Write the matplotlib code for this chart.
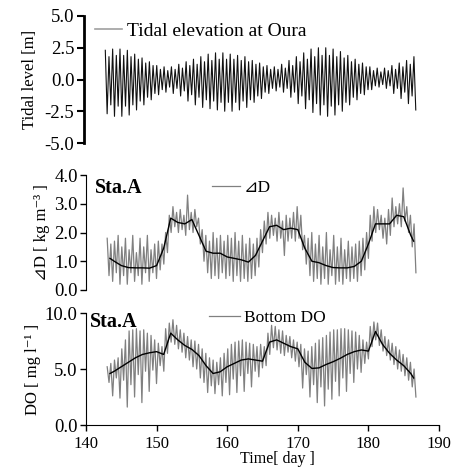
import numpy as np
import matplotlib
matplotlib.use('Agg')
import matplotlib.pyplot as plt
from matplotlib.lines import Line2D

FAM = ['Liberation Serif', 'DejaVu Sans']
plt.rcParams['font.family'] = FAM
plt.rcParams['font.size'] = 11

# ---------------- data ----------------
# time grid of the semidiurnal high / low waters (days)
CYCLE = 0.5175
t_high = 143.0 + CYCLE * np.arange(85)
t_low = t_high + CYCLE / 2

tide_high = [2.3, 1.8, 2.4, 1.9, 2.4, 1.9, 2.3, 1.8, 2.0, 1.6, 1.7, 1.3, 1.4, 1.1, 1.1, 0.8,
             1.0, 0.7, 1.0, 0.8, 1.2, 0.9, 1.4, 1.1, 1.6, 1.2, 1.8, 1.4, 2.0, 1.5, 2.1, 1.6,
             2.1, 1.6, 2.0, 1.6, 1.9, 1.5, 1.8, 1.4, 1.5, 1.2, 1.3, 1.0, 1.1, 0.8, 1.0, 0.8,
             1.2, 0.9, 1.5, 1.1, 1.8, 1.4, 2.1, 1.6, 2.4, 1.8, 2.5, 1.9, 2.5, 1.9, 2.4, 1.8,
             2.2, 1.7, 1.9, 1.4, 1.6, 1.2, 1.3, 1.0, 1.0, 0.7, 0.9, 0.6, 0.9, 0.7, 1.1, 0.8,
             1.3, 1.0, 1.5, 1.2, 1.8]
tide_low = [-2.7, -2.0, -2.9, -2.1, -2.9, -2.1, -2.8, -2.0, -2.4, -1.7, -2.0, -1.4, -1.6, -1.1,
            -1.2, -0.8, -1.0, -0.6, -1.1, -0.7, -1.3, -0.9, -1.7, -1.2, -2.0, -1.4, -2.2, -1.6,
            -2.3, -1.7, -2.4, -1.8, -2.5, -1.8, -2.5, -1.8, -2.4, -1.7, -2.2, -1.6, -1.8, -1.3,
            -1.5, -1.0, -1.1, -0.7, -0.9, -0.6, -1.0, -0.7, -1.4, -1.0, -1.9, -1.3, -2.3, -1.6,
            -2.6, -1.9, -2.8, -2.0, -2.9, -2.1, -2.8, -2.0, -2.5, -1.8, -2.0, -1.4, -1.6, -1.1,
            -1.2, -0.8, -0.8, -0.5, -0.6, -0.4, -0.7, -0.5, -1.1, -0.7, -1.5, -1.0, -1.9, -1.3,
            -2.4]

dD_high = [1.8, 1.6, 1.7, 1.9, 1.5, 1.8, 1.4, 1.9, 1.3, 1.8, 1.5, 1.9, 1.4, 1.6, 1.7, 1.6,
           2.0, 2.6, 2.9, 2.7, 2.8, 2.6, 3.3, 2.7, 2.8, 2.5, 2.1, 1.9, 1.7, 2.0, 1.8, 1.9,
           1.7, 1.9, 1.8, 2.0, 1.7, 1.9, 1.6, 1.8, 1.6, 1.8, 2.1, 2.4, 2.7, 2.6, 2.5, 2.7,
           2.4, 2.6, 2.5, 2.7, 2.9, 2.6, 1.9, 1.8, 2.0, 1.6, 1.9, 1.5, 2.0, 1.4, 1.9, 1.5,
           1.8, 1.4, 1.7, 1.5, 1.6, 1.7, 1.8, 2.0, 2.6, 2.9, 2.8, 2.6, 2.5, 2.8, 3.2, 2.9,
           3.0, 3.55, 2.9, 2.6, 2.3]
dD_low = [0.5, 0.3, 0.6, 0.2, 0.5, 0.2, 0.6, 0.3, 0.5, 0.2, 0.6, 0.3, 0.6, 0.4, 0.7, 0.9,
          1.3, 2.0, 2.2, 2.0, 2.1, 1.9, 2.1, 2.0, 2.2, 1.6, 1.0, 0.6, 0.4, 0.5, 0.4, 0.6,
          0.4, 0.5, 0.3, 0.5, 0.3, 0.4, 0.3, 0.4, 0.5, 0.8, 1.3, 1.6, 1.8, 1.9, 1.7, 1.8,
          1.2, 1.7, 1.8, 1.7, 1.8, 1.4, 0.9, 0.5, 0.3, 0.4, 0.2, 0.4, 0.2, 0.5, 0.2, 0.3,
          0.2, 0.4, 0.3, 0.4, 0.3, 0.5, 0.7, 1.1, 1.7, 2.0, 2.1, 1.8, 1.6, 1.9, 2.2, 2.3,
          2.2, 2.4, 2.0, 1.5, 0.6]

do_high = [5.2, 5.5, 5.8, 6.0, 6.8, 7.6, 8.4, 8.5, 8.6, 8.4, 8.5, 8.2, 8.0, 7.6, 7.3, 7.0,
           8.6, 9.1, 9.4, 8.9, 8.5, 8.2, 7.9, 7.6, 7.5, 7.2, 6.8, 6.4, 6.0, 5.8, 5.6, 6.0,
           6.4, 6.8, 7.2, 7.4, 7.5, 7.6, 7.4, 7.3, 7.2, 7.0, 7.2, 7.0, 8.2, 8.9, 8.8, 8.5,
           8.4, 8.0, 7.9, 7.6, 7.4, 7.2, 6.8, 6.6, 7.0, 7.3, 7.6, 7.8, 8.0, 8.3, 8.5, 8.5,
           8.6, 8.6, 8.5, 8.4, 8.3, 8.0, 7.6, 7.4, 8.8, 9.2, 9.1, 8.5, 7.9, 7.6, 7.3, 7.0,
           6.7, 6.3, 6.0, 5.6, 5.0]
do_low = [3.8, 2.6, 4.2, 2.4, 4.0, 1.6, 3.6, 2.5, 4.5, 2.0, 4.8, 3.0, 4.9, 3.7, 5.3, 4.8,
          6.4, 7.4, 7.2, 6.8, 6.5, 6.0, 5.8, 5.2, 5.0, 4.2, 3.8, 2.9, 3.5, 2.8, 3.6, 2.6,
          3.8, 2.7, 4.1, 2.9, 4.4, 3.0, 4.6, 3.4, 4.8, 4.3, 5.1, 5.3, 6.3, 6.9, 6.7, 6.4,
          6.2, 6.5, 6.0, 5.7, 5.2, 3.3, 4.5, 2.5, 3.6, 2.0, 3.4, 1.7, 3.2, 2.3, 3.9, 2.6,
          4.2, 3.0, 4.6, 3.8, 5.0, 4.7, 5.5, 5.9, 7.0, 7.6, 7.1, 6.6, 6.2, 5.8, 5.4, 5.0,
          4.8, 4.4, 4.0, 3.4, 2.5]

# daily-mean (smoothed) series
mean_day = [143.4, 144, 145, 146, 147, 148, 149, 150, 151, 152, 153, 154, 155, 156, 157,
            158, 159, 160, 161, 162, 163, 164, 165, 166, 167, 168, 169, 170, 171, 172, 173,
            174, 175, 176, 177, 178, 179, 180, 181, 182, 183, 184, 185, 186, 186.4]
dD_mean = [1.1, 1.0, 0.85, 0.78, 0.77, 0.77, 0.76, 0.85, 1.45, 2.5, 2.35, 2.3, 2.45, 1.9, 1.35,
           1.28, 1.28, 1.15, 1.1, 1.05, 0.97, 1.2, 1.7, 2.2, 2.25, 2.1, 2.15, 2.1, 1.45, 1.0, 0.95,
           0.85, 0.78, 0.77, 0.77, 0.82, 1.0, 1.6, 2.3, 2.3, 2.3, 2.6, 2.55, 1.9, 1.7]
do_mean = [4.6, 4.8, 5.2, 5.6, 6.0, 6.3, 6.45, 6.55, 6.3, 8.2, 7.6, 7.1, 6.75, 6.2, 5.3,
           4.6, 4.75, 5.2, 5.5, 5.8, 5.9, 5.8, 5.7, 7.4, 7.6, 7.3, 7.0, 6.8, 5.6, 5.05, 5.1,
           5.4, 5.65, 5.95, 6.3, 6.55, 6.7, 6.6, 8.35, 7.2, 6.4, 5.8, 5.3, 4.6, 4.2]

x_ticks = [140, 150, 160, 170, 180, 190]


def zigzag(hi, lo):
    t = np.column_stack([t_high, t_low]).ravel()
    v = np.column_stack([hi, lo]).ravel()
    return t, v


# ---------------- figure ----------------
W, H = 454, 467
fig = plt.figure(figsize=(W / 100, H / 100), dpi=100)


def px_axes(x0, y0, x1, y1):
    return fig.add_axes([x0 / W, 1 - y1 / H, (x1 - x0) / W, (y1 - y0) / H])


ax1 = px_axes(84, 16, 439, 143)
ax2 = px_axes(86, 175, 439, 290)
ax3 = px_axes(86, 313, 439, 425)

for ax in (ax1, ax2, ax3):
    ax.set_xlim(140, 190)
    for s in ('top', 'right'):
        ax.spines[s].set_visible(False)
    ax.tick_params(direction='out', length=4, width=1, pad=2)
    ax.tick_params(axis='y', labelsize=13.5)
    ax.tick_params(axis='x', labelsize=12)

for ax in (ax1, ax2):
    ax.spines['bottom'].set_visible(False)
    ax.tick_params(axis='x', bottom=False, labelbottom=False)

# --- tide
t, v = zigzag(tide_high, tide_low)
ax1.plot(t, v, color='#111111', lw=0.8)
ax1.set_ylim(-5, 5)
ax1.set_yticks([5.0, 2.5, 0.0, -2.5, -5.0])
ax1.set_yticklabels(['5.0', '2.5', '0.0', '-2.5', '-5.0'])
ax1.spines['left'].set_linewidth(2.0)
ax1.tick_params(axis='y', width=1.5, length=5)
ax1.set_ylabel('Tidal level [m]', fontsize=12, labelpad=5)
ax1.legend(handles=[Line2D([], [], color='#a0a0a0', lw=1.2)],
           labels=['Tidal elevation at Oura'], loc='center left',
           bbox_to_anchor=(95 / W, 1 - 31 / H), bbox_transform=fig.transFigure,
           frameon=False, borderpad=0, borderaxespad=0, handlelength=1.4,
           handletextpad=0.25, fontsize=14)

# --- delta D
t, v = zigzag(dD_high, dD_low)
ax2.plot(t, v, color='#808080', lw=0.9, label='⊿D')
ax2.plot(mean_day, dD_mean, color='black', lw=1.0)
ax2.set_ylim(0, 4)
ax2.set_yticks([0, 1, 2, 3, 4])
ax2.set_yticklabels(['0.0', '1.0', '2.0', '3.0', '4.0'])
ax2.set_ylabel('⊿D [ kg m⁻³ ]', fontsize=12, labelpad=3)
ax2.text(95 / W, 1 - 188 / H, 'Sta.A', transform=fig.transFigure, fontsize=14.5,
         fontweight='bold', va='center', ha='left')
ax2.legend(loc='center left', bbox_to_anchor=(212 / W, 1 - 188 / H),
           bbox_transform=fig.transFigure, frameon=False, borderpad=0, borderaxespad=0,
           handlelength=1.6, handletextpad=0.2, fontsize=12.5)

# --- DO
t, v = zigzag(do_high, do_low)
ax3.plot(t, v, color='#808080', lw=0.9, label='Bottom DO')
ax3.plot(mean_day, do_mean, color='black', lw=1.0)
ax3.set_ylim(0, 10)
ax3.set_yticks([0, 5, 10])
ax3.set_yticklabels(['0.0', '5.0', '10.0'])
ax3.set_ylabel('DO [ mg l⁻¹ ]', fontsize=12, labelpad=3)
ax3.set_xticks(x_ticks)
ax3.tick_params(axis='x', pad=4)
ax3.text(90 / W, 1 - 322 / H, 'Sta.A', transform=fig.transFigure, fontsize=14.5,
         fontweight='bold', va='center', ha='left')
ax3.legend(loc='center left', bbox_to_anchor=(209 / W, 1 - 318 / H),
           bbox_transform=fig.transFigure, frameon=False, borderpad=0, borderaxespad=0,
           handlelength=1.8, handletextpad=0.2, fontsize=12.5)
ax3.set_xlabel('Time[ day ]', fontsize=11.5)
ax3.xaxis.set_label_coords((277 - 86) / 353, -(451 - 425) / 112)

fig.savefig('out.png', dpi=100)
